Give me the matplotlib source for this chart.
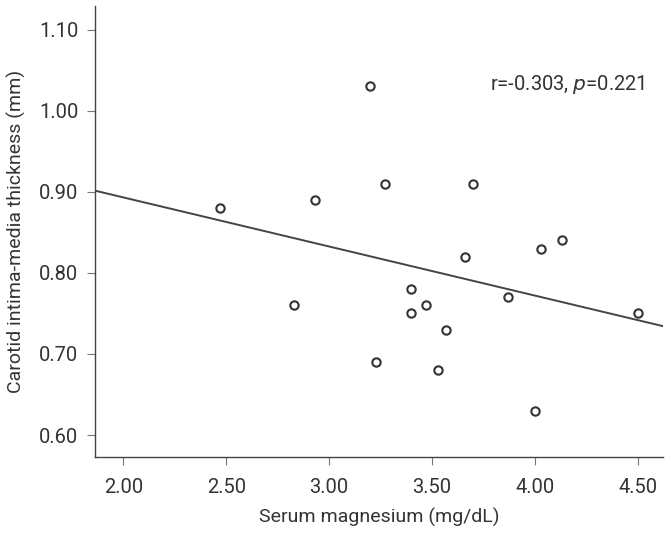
import numpy as np
import matplotlib
matplotlib.use('Agg')
import matplotlib.pyplot as plt

plt.rcParams['font.family'] = ['Roboto', 'DejaVu Sans']

# serum magnesium (mg/dL) vs carotid IMT (mm)
magnesium = [2.47, 2.83, 2.93, 3.20, 3.27, 3.23, 3.40, 3.40, 3.47, 3.53,
             3.57, 3.66, 3.70, 3.87, 4.00, 4.03, 4.13, 4.50]
imt = [0.88, 0.76, 0.89, 1.03, 0.91, 0.69, 0.78, 0.75, 0.76, 0.68,
       0.73, 0.82, 0.91, 0.77, 0.63, 0.83, 0.84, 0.75]

# fitted regression line
intercept = 1.014
slope = -0.0605

xticks = [2.00, 2.50, 3.00, 3.50, 4.00, 4.50]
yticks = [0.60, 0.70, 0.80, 0.90, 1.00, 1.10]
annotation = 'r=-0.303, $\\mathit{p}$=0.221'

dark = '#333333'

fig = plt.figure(figsize=(6.7, 5.35), dpi=100)
ax = fig.add_axes([0.1418, 0.1458, 0.8478, 0.843])

xlim = (1.862, 4.623)
ylim = (0.573, 1.129)

xs = np.array(xlim)
ax.plot(xs, intercept + slope * xs, color='#444444', lw=1.4, zorder=2)
ax.plot(magnesium, imt, 'o', ms=6, mfc='white', mec=dark, mew=1.5, zorder=3)

ax.set_xlim(*xlim)
ax.set_ylim(*ylim)
ax.set_xticks(xticks)
ax.set_yticks(yticks)
ax.set_xticklabels(['%.2f' % v for v in xticks])
ax.set_yticklabels(['%.2f' % v for v in yticks])

for s in ['top', 'right']:
    ax.spines[s].set_visible(False)
for s in ['left', 'bottom']:
    ax.spines[s].set_color('#444444')
    ax.spines[s].set_linewidth(1.0)

ax.tick_params(direction='out', length=6, width=0.8, color='#777777',
               labelsize=14.5, labelcolor=dark, pad=6)
ax.tick_params(axis='x', pad=9)

ax.set_xlabel('Serum magnesium (mg/dL)', fontsize=14, color=dark, labelpad=8)
ax.set_ylabel('Carotid intima-media thickness (mm)', fontsize=14, color=dark, labelpad=9)

ax.text(0.968, 0.825, annotation, transform=ax.transAxes, fontsize=14.5,
        color=dark, va='center', ha='right')

fig.savefig('out.png', dpi=100)
